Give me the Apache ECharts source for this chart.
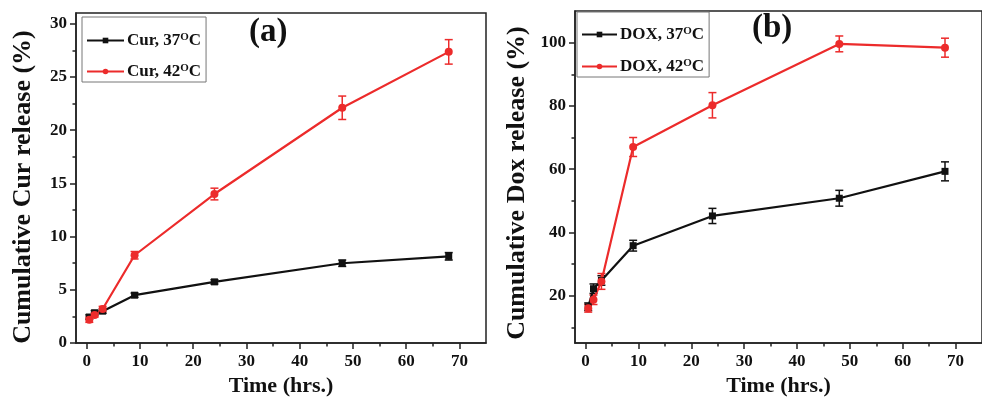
<!DOCTYPE html>
<html>
<head>
<meta charset="utf-8">
<script src="https://cdn.jsdelivr.net/npm/echarts@6/dist/echarts.min.js"></script>
<style>
html,body{margin:0;padding:0;background:#fff;}
#c{width:982px;height:402px;}
</style>
</head>
<body>
<div id="c"></div>
<script>
// ---- data ----
const timeHrs = [0.5, 1.5, 3, 9, 24, 48, 68];

const cur37 = [2.45, 2.85, 3.0, 4.5, 5.75, 7.5, 8.15];
const cur37Err = [0.2, 0.2, 0.2, 0.2, 0.2, 0.3, 0.35];
const cur42 = [2.2, 2.65, 3.2, 8.25, 14.0, 22.1, 27.35];
const cur42Err = [0.25, 0.2, 0.25, 0.35, 0.55, 1.1, 1.15];

const dox37 = [16.5, 22.2, 24.8, 35.8, 45.2, 50.8, 59.3];
const dox37Err = [1.2, 1.5, 1.5, 1.7, 2.4, 2.5, 3.0];
const dox42 = [16.0, 18.7, 24.5, 67.0, 80.2, 99.6, 98.4];
const dox42Err = [1.2, 1.5, 2.5, 3.0, 4.0, 2.5, 3.0];

const seriesNames = ['Cur, 37°C', 'Cur, 42°C', 'DOX, 37°C', 'DOX, 42°C'];

const xMajor = [0, 10, 20, 30, 40, 50, 60, 70];
const xMinor = [5, 15, 25, 35, 45, 55, 65];
const yCurMajor = [0, 5, 10, 15, 20, 25, 30];
const yCurMinor = [2.5, 7.5, 12.5, 17.5, 22.5, 27.5];
const yDoxMajor = [20, 40, 60, 80, 100];
const yDoxMinor = [10, 30, 50, 70, 90];

const FONT = "'Liberation Serif','Times New Roman',serif";
const BLACK = '#111111';
const RED = '#ec2b2b';
const AX = '#222222';

function pairs(xs, ys) { return xs.map((x, i) => [x, ys[i]]); }
function errData(xs, ys, es) { return xs.map((x, i) => [x, ys[i] - es[i], ys[i] + es[i]]); }

function mainX(grid, name) {
  return {
    type: 'value', gridIndex: grid, min: -2, max: 75, position: 'bottom',
    axisLine: { show: true, onZero: false, lineStyle: { color: AX, width: 1.5 } },
    axisTick: { show: true, customValues: xMajor, length: 6, lineStyle: { color: AX, width: 1.5 } },
    axisLabel: { customValues: xMajor, fontFamily: FONT, fontWeight: 'bold', fontSize: 17, color: BLACK, margin: 10 },
    splitLine: { show: false },
    name: name, nameLocation: 'middle', nameGap: 30,
    nameTextStyle: { fontFamily: FONT, fontWeight: 'bold', fontSize: 22, color: BLACK }
  };
}
function minorX(grid) {
  return {
    type: 'value', gridIndex: grid, min: -2, max: 75, position: 'bottom',
    axisLine: { show: false, onZero: false },
    axisTick: { show: true, customValues: xMinor, length: 3.5, lineStyle: { color: AX, width: 1.5 } },
    axisLabel: { show: false }, splitLine: { show: false }
  };
}
function mainY(grid, min, max, major, name, gap, shift) {
  return {
    type: 'value', gridIndex: grid, min: min, max: max, position: 'left',
    axisLine: { show: true, onZero: false, lineStyle: { color: AX, width: 1.5 } },
    axisTick: { show: true, customValues: major, length: 6, lineStyle: { color: AX, width: 1.5 } },
    axisLabel: { customValues: major, fontFamily: FONT, fontWeight: 'bold', fontSize: 17, color: BLACK, margin: 9 },
    splitLine: { show: false },
    name: name, nameLocation: 'middle', nameGap: gap,
    nameTextStyle: { fontFamily: FONT, fontWeight: 'bold', fontSize: 26, color: BLACK, padding: [0, shift, 0, 0] }
  };
}
function minorY(grid, min, max, minor) {
  return {
    type: 'value', gridIndex: grid, min: min, max: max, position: 'left',
    axisLine: { show: false, onZero: false },
    axisTick: { show: true, customValues: minor, length: 3.5, lineStyle: { color: AX, width: 1.5 } },
    axisLabel: { show: false }, splitLine: { show: false }
  };
}
function lineSeries(name, xi, yi, data, color, symbol) {
  return {
    type: 'line', name: name, xAxisIndex: xi, yAxisIndex: yi, data: data,
    symbol: symbol, symbolSize: symbol === 'rect' ? 7 : 8,
    lineStyle: { color: color, width: 2.2 }, itemStyle: { color: color },
    z: 3
  };
}
function errSeries(xi, yi, data, color) {
  return {
    type: 'custom', xAxisIndex: xi, yAxisIndex: yi, data: data, z: 2,
    renderItem: function (params, api) {
      const x = api.value(0);
      const lo = api.coord([x, api.value(1)]);
      const hi = api.coord([x, api.value(2)]);
      const w = 4;
      const st = { stroke: color, lineWidth: 1.5 };
      return {
        type: 'group', children: [
          { type: 'line', shape: { x1: lo[0], y1: lo[1], x2: hi[0], y2: hi[1] }, style: st },
          { type: 'line', shape: { x1: lo[0] - w, y1: lo[1], x2: lo[0] + w, y2: lo[1] }, style: st },
          { type: 'line', shape: { x1: hi[0] - w, y1: hi[1], x2: hi[0] + w, y2: hi[1] }, style: st }
        ]
      };
    },
    silent: true
  };
}
function legend(left, top, names, itemW, gap, padTop) {
  return {
    orient: 'vertical', left: left, top: top, data: names,
    borderColor: '#777', borderWidth: 1, padding: [padTop, 5, 2, 4],
    itemWidth: itemW, itemHeight: 7, itemGap: gap,
    formatter: n => n.replace('°C', '{sup|O}C'),
    textStyle: {
      fontFamily: FONT, fontWeight: 'bold', fontSize: 17, color: BLACK, padding: [0, 0, 0, -2],
      rich: { sup: { fontFamily: FONT, fontWeight: 'bold', fontSize: 11, color: BLACK, verticalAlign: 'top', lineHeight: 11, padding: [0, 0, 4, 0] } }
    }
  };
}

const chart = echarts.init(document.getElementById('c'), null, { renderer: 'canvas' });
chart.setOption({
  animation: false,
  backgroundColor: '#ffffff',
  grid: [
    { left: 76, top: 13, width: 410, height: 333, show: true, borderColor: AX, borderWidth: 1.5, containLabel: false },
    { left: 575, top: 11, width: 417, height: 333.5, show: true, borderColor: AX, borderWidth: 1.5, containLabel: false }
  ],
  xAxis: [mainX(0, 'Time (hrs.)'), minorX(0), mainX(1, 'Time (hrs.)'), minorX(1)],
  yAxis: [
    mainY(0, 0, 31, yCurMajor, 'Cumulative Cur release (%)', 40, 18), minorY(0, 0, 31, yCurMinor),
    mainY(1, 5, 110, yDoxMajor, 'Cumulative Dox release (%)', 45, 12), minorY(1, 5, 110, yDoxMinor)
  ],
  legend: [
    legend(82, 17, [seriesNames[0], seriesNames[1]], 37, 14, 15),
    legend(577, 12, [seriesNames[2], seriesNames[3]], 35, 15, 14)
  ],
  graphic: [
    { type: 'text', left: 249, top: 16, style: { text: '(a)', fontFamily: FONT, fontWeight: 'bold', fontSize: 33, fill: BLACK } },
    { type: 'text', left: 752, top: 12, style: { text: '(b)', fontFamily: FONT, fontWeight: 'bold', fontSize: 33, fill: BLACK } }
  ],
  series: [
    errSeries(0, 0, errData(timeHrs, cur37, cur37Err), BLACK),
    errSeries(0, 0, errData(timeHrs, cur42, cur42Err), RED),
    lineSeries(seriesNames[0], 0, 0, pairs(timeHrs, cur37), BLACK, 'rect'),
    lineSeries(seriesNames[1], 0, 0, pairs(timeHrs, cur42), RED, 'circle'),
    errSeries(2, 2, errData(timeHrs, dox37, dox37Err), BLACK),
    errSeries(2, 2, errData(timeHrs, dox42, dox42Err), RED),
    lineSeries(seriesNames[2], 2, 2, pairs(timeHrs, dox37), BLACK, 'rect'),
    lineSeries(seriesNames[3], 2, 2, pairs(timeHrs, dox42), RED, 'circle')
  ]
});
</script>
</body>
</html>
